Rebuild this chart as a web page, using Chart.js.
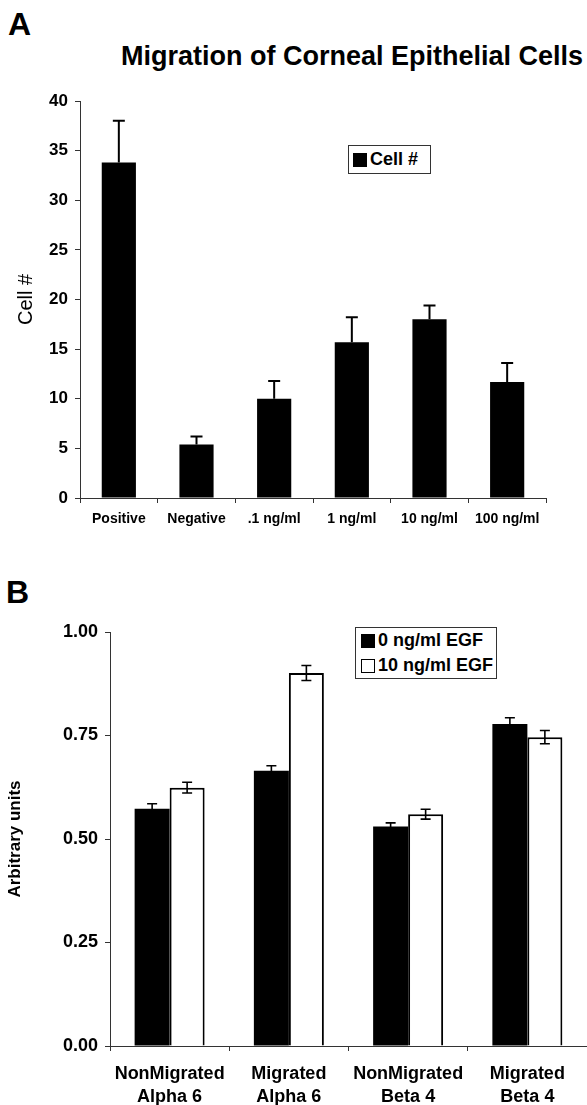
<!DOCTYPE html>
<html>
<head>
<meta charset="utf-8">
<script src="https://cdn.jsdelivr.net/npm/chart.js@4"></script>
<style>
  body { margin: 0; background: #fff; font-family: "Liberation Sans", Arial, sans-serif; }
  #page { position: relative; width: 587px; height: 1105px; overflow: hidden; }
  canvas { position: absolute; left: 0; }
  .panel { position: absolute; font-weight: bold; font-size: 32px; line-height: 32px; }
  .title { position: absolute; right: 4px; top: 43px; font-weight: bold; font-size: 27px; line-height: 27px; white-space: nowrap; }
  .legend { position: absolute; border: 1px solid #333; background: #fff; font-weight: bold; font-size: 18px; box-sizing: border-box; }
  .legend .row { display: flex; align-items: center; height: 25px; white-space: nowrap; }
  .legend .sw { width: 14px; height: 14px; box-sizing: border-box; margin-right: 3px; }
</style>
</head>
<body>
<div id="page">
  <div class="panel" style="left:8px;top:8px">A</div>
  <div class="title">Migration of Corneal Epithelial Cells</div>
  <canvas id="chartA" width="587" height="548" style="top:0"></canvas>
  <div id="legendA" class="legend" style="left:348px;top:145px;width:83px;height:29px;padding:1px 0 0 4px"></div>

  <div class="panel" style="left:6px;top:576px">B</div>
  <canvas id="chartB" width="587" height="545" style="top:560px"></canvas>
  <div id="legendB" class="legend" style="left:355px;top:627px;width:142px;height:52px;padding:0 0 0 5px"></div>
</div>

<script>
// panel A data
const migrationLabels = ['Positive', 'Negative', '.1 ng/ml', '1 ng/ml', '10 ng/ml', '100 ng/ml'];
const cellCounts = [33.8, 5.4, 10.0, 15.7, 18.0, 11.7];
const cellErrors = [4.2, 0.8, 1.8, 2.5, 1.4, 1.9];
const cellTicks = [0, 5, 10, 15, 20, 25, 30, 35, 40];

// panel B data
const integrinLabels = [['NonMigrated', 'Alpha 6'], ['Migrated', 'Alpha 6'], ['NonMigrated', 'Beta 4'], ['Migrated', 'Beta 4']];
const egf0Values = [0.573, 0.665, 0.530, 0.778];
const egf0Errors = [0.012, 0.012, 0.009, 0.015];
const egf10Values = [0.624, 0.901, 0.560, 0.746];
const egf10Errors = [0.013, 0.018, 0.012, 0.016];
const unitTicks = [0, 0.25, 0.5, 0.75, 1.0];

const FONT = '"Liberation Sans", Arial, sans-serif';
const AXIS = '#333';

// draws error bars from dataset.errors
const errorBarPlugin = {
  id: 'errorBars',
  afterDatasetsDraw(chart, args, opts) {
    const ctx = chart.ctx;
    const yScale = chart.scales.y;
    chart.data.datasets.forEach((ds, di) => {
      if (!ds.errors) return;
      const meta = chart.getDatasetMeta(di);
      meta.data.forEach((bar, i) => {
        const v = ds.data[i], e = ds.errors[i];
        const yTop = yScale.getPixelForValue(v + e);
        const yBot = opts.upOnly ? bar.y : yScale.getPixelForValue(v - e);
        const half = opts.capWidth / 2;
        ctx.save();
        ctx.strokeStyle = '#000';
        ctx.lineWidth = opts.lineWidth;
        ctx.beginPath();
        ctx.moveTo(bar.x, yBot); ctx.lineTo(bar.x, yTop);
        ctx.moveTo(bar.x - half, yTop); ctx.lineTo(bar.x + half, yTop);
        if (!opts.upOnly) { ctx.moveTo(bar.x - half, yBot); ctx.lineTo(bar.x + half, yBot); }
        ctx.stroke();
        ctx.restore();
      });
    });
  }
};

function buildLegend(chart, el) {
  chart.data.datasets.forEach(ds => {
    const row = document.createElement('div');
    row.className = 'row';
    const sw = document.createElement('span');
    sw.className = 'sw';
    sw.style.background = ds.backgroundColor;
    sw.style.border = '1.5px solid #000';
    row.appendChild(sw);
    row.appendChild(document.createTextNode(ds.label));
    el.appendChild(row);
  });
}

const chartA = new Chart(document.getElementById('chartA'), {
  type: 'bar',
  data: {
    labels: migrationLabels,
    datasets: [{
      label: 'Cell #',
      data: cellCounts,
      errors: cellErrors,
      backgroundColor: '#000',
      borderWidth: 0,
      categoryPercentage: 0.44,
      barPercentage: 1.0
    }]
  },
  plugins: [errorBarPlugin],
  options: {
    responsive: false,
    animation: false,
    layout: { padding: { top: 101, right: 41, left: 0, bottom: 0 } },
    plugins: {
      legend: { display: false },
      tooltip: { enabled: false },
      errorBars: { upOnly: true, capWidth: 12, lineWidth: 2 }
    },
    scales: {
      x: {
        afterFit: s => { s.height = 50; },
        grid: { drawOnChartArea: false, tickLength: 5, color: AXIS },
        border: { color: AXIS, width: 1 },
        ticks: { color: '#000', padding: 8, maxRotation: 0, autoSkip: false, font: { family: FONT, size: 14, weight: 'bold' } }
      },
      y: {
        min: 0, max: 40,
        afterFit: s => { s.width = 80; },
        afterBuildTicks: s => { s.ticks = cellTicks.map(v => ({ value: v })); },
        grid: { drawOnChartArea: false, tickLength: 5, color: AXIS },
        border: { color: AXIS, width: 1 },
        ticks: { color: '#000', padding: 7, font: { family: FONT, size: 17, weight: 'bold' } },
        title: { display: true, text: 'Cell #', color: '#000', padding: { top: 14, bottom: 0 }, font: { family: FONT, size: 20 } }
      }
    }
  }
});
buildLegend(chartA, document.getElementById('legendA'));

const chartB = new Chart(document.getElementById('chartB'), {
  type: 'bar',
  data: {
    labels: integrinLabels,
    datasets: [{
      label: '0 ng/ml EGF',
      data: egf0Values,
      errors: egf0Errors,
      backgroundColor: '#000',
      borderColor: '#000',
      borderWidth: 0,
      categoryPercentage: 0.587,
      barPercentage: 1.0
    }, {
      label: '10 ng/ml EGF',
      data: egf10Values,
      errors: egf10Errors,
      backgroundColor: '#fff',
      borderColor: '#000',
      borderWidth: 2,
      categoryPercentage: 0.587,
      barPercentage: 1.0
    }]
  },
  plugins: [errorBarPlugin],
  options: {
    responsive: false,
    animation: false,
    layout: { padding: { top: 72, right: 0, left: 0, bottom: 0 } },
    plugins: {
      legend: { display: false },
      tooltip: { enabled: false },
      errorBars: { upOnly: false, capWidth: 10, lineWidth: 1.6 }
    },
    scales: {
      x: {
        afterFit: s => { s.height = 59; },
        grid: { drawOnChartArea: false, tickLength: 5, color: AXIS },
        border: { color: AXIS, width: 1 },
        ticks: { color: '#000', padding: 12, maxRotation: 0, autoSkip: false, font: { family: FONT, size: 18, weight: 'bold', lineHeight: 1.25 } }
      },
      y: {
        min: 0, max: 1,
        afterFit: s => { s.width = 110; },
        afterBuildTicks: s => { s.ticks = unitTicks.map(v => ({ value: v })); },
        grid: { drawOnChartArea: false, tickLength: 5, color: AXIS },
        border: { color: AXIS, width: 1 },
        ticks: { color: '#000', padding: 7, callback: v => v.toFixed(2), font: { family: FONT, size: 18, weight: 'bold' } },
        title: { display: true, text: 'Arbitrary units', color: '#000', padding: { top: 5, bottom: 0 }, font: { family: FONT, size: 17, weight: 'bold' } }
      }
    }
  }
});
buildLegend(chartB, document.getElementById('legendB'));
</script>
</body>
</html>
